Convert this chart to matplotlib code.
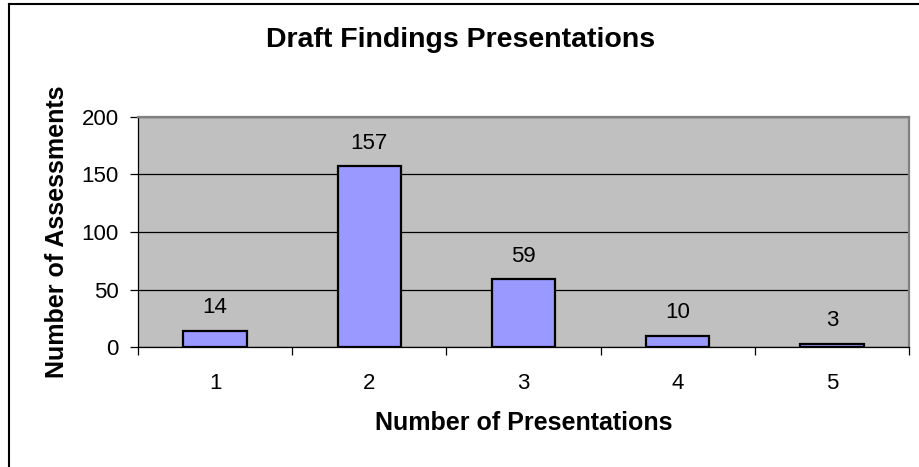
import numpy as np
import matplotlib.pyplot as plt
from matplotlib.lines import Line2D

plt.rcParams["font.family"] = ["Liberation Sans", "DejaVu Sans"]

categories = ["1", "2", "3", "4", "5"]
assessments = [14, 157, 59, 10, 3]
y_ticks = [0, 50, 100, 150, 200]

fig = plt.figure(figsize=(9.2, 4.67), dpi=100)
ax = fig.add_axes([138 / 920, 1 - 347 / 467, (909 - 138) / 920, (347 - 117) / 467])

x = np.arange(len(categories))
ax.bar(x, assessments, width=0.41, color="#9999FF", edgecolor="black",
       linewidth=1.6, zorder=3)

for xi, v in zip(x, assessments):
    ax.annotate(str(v), (xi, v), xytext=(0, 9), textcoords="offset points",
                ha="center", va="bottom", fontsize=16)

ax.set_facecolor("#C0C0C0")
ax.set_xlim(-0.5, len(categories) - 0.5)
ax.set_ylim(0, 200)
ax.set_yticks(y_ticks)
ax.yaxis.grid(True, color="black", linewidth=0.9, zorder=1)
ax.set_axisbelow(True)

# category labels between boundary ticks
ax.set_xticks(np.arange(len(categories) + 1) - 0.5)
ax.set_xticklabels([])
ax.set_xticks(x, minor=True)
ax.set_xticklabels(categories, minor=True, fontsize=16)
ax.tick_params(axis="x", which="minor", length=0, pad=19)
ax.tick_params(axis="x", which="major", length=6, width=0.9, direction="out")
ax.tick_params(axis="y", length=6, width=0.9, direction="out", labelsize=16, pad=8)

for s in ("top", "right"):
    ax.spines[s].set_color("#808080")
    ax.spines[s].set_linewidth(1.6)
for s in ("left", "bottom"):
    ax.spines[s].set_color("black")
    ax.spines[s].set_linewidth(0.9)

ax.set_xlabel("Number of Presentations", fontsize=18, fontweight="bold", labelpad=12)
ax.set_ylabel("Number of Assessments", fontsize=18, fontweight="bold", labelpad=9)
fig.text(461 / 920, 1 - 40 / 467, "Draft Findings Presentations",
         ha="center", va="center", fontsize=20.5, fontweight="bold")

# chart-area border (only top and left visible)
fig.add_artist(Line2D([9.5 / 920, 9.5 / 920], [0, 1 - 4 / 467],
                      transform=fig.transFigure, color="black", linewidth=1.5))
fig.add_artist(Line2D([9.5 / 920, 1], [1 - 4 / 467, 1 - 4 / 467],
                      transform=fig.transFigure, color="black", linewidth=1.5))

fig.savefig("out.png", dpi=100)
